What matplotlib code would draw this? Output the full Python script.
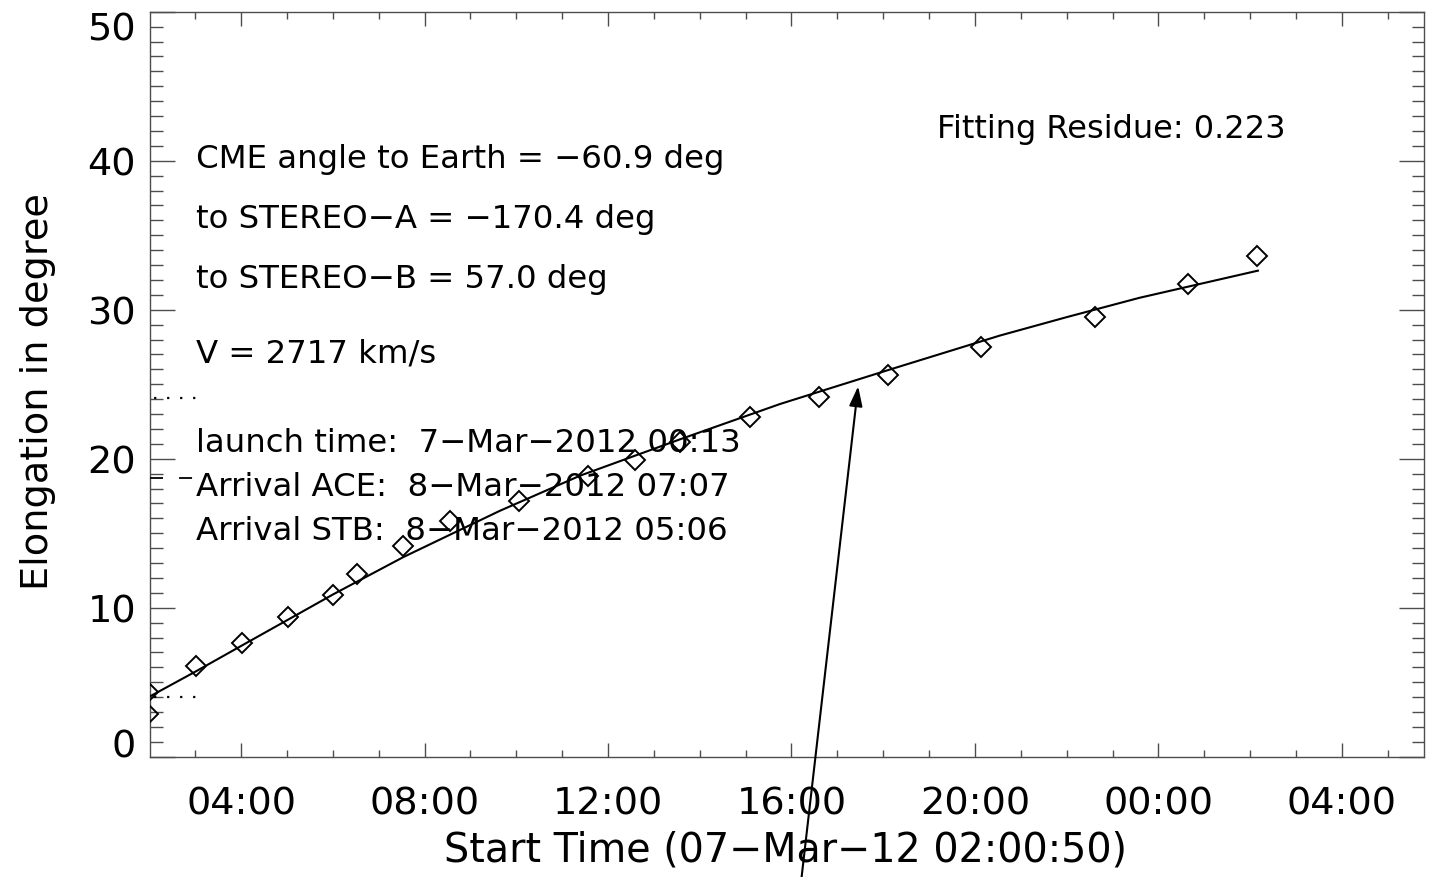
import matplotlib
matplotlib.use("Agg")
import matplotlib.pyplot as plt
from matplotlib.ticker import MultipleLocator, FuncFormatter

plt.rcParams['font.family'] = ['DejaVu Sans']

# Time axis in hours since 07-Mar-2012 00:00 UT
t_start = 2 + 0 / 60 + 50 / 3600          # 02:00:50
t_end = t_start + 100000 / 3600           # 100000 s window

# Measured elongations (deg)
obs_hours = [1.97, 1.97, 3.01, 4.01, 5.02, 6.01, 6.53, 7.54, 8.55, 10.06,
             11.57, 12.59, 13.57, 15.09, 16.60, 18.11, 20.13, 22.61, 24.65, 26.15]
obs_elong = [4.34, 2.87, 6.11, 7.61, 9.36, 10.87, 12.26, 14.12, 15.84, 17.18,
             18.86, 19.93, 21.10, 22.78, 24.12, 25.62, 27.52, 29.51, 31.72, 33.62]

# Fitted elongation profile
fit_hours = [2.014, 3.01, 4.01, 5.02, 6.01, 7.54, 9.64, 11.39, 13.57, 15.75,
             18.11, 20.54, 22.0, 23.59, 26.17]
fit_elong = [4.05, 5.72, 7.45, 9.19, 10.90, 13.40, 16.50, 18.86, 21.30, 23.67,
             25.95, 28.26, 29.50, 30.80, 32.62]

# Reference elongation levels marked at the left edge
dotted_levels = [24.07, 4.03]
dashed_levels = [18.72]
level_span = 1.0  # hours

# Arrow marking the event on the fitted track
arrow_tip = (17.454, 24.86)
arrow_tail = (16.166, -9.55)

y_ticks = [0, 10, 20, 30, 40, 50]

info_lines = [
    "CME angle to Earth = \u221260.9 deg",
    "to STEREO\u2212A = \u2212170.4 deg",
    "to STEREO\u2212B = 57.0 deg",
    "V = 2717 km/s",
    "launch time:  7\u2212Mar\u22122012 00:13",
    "Arrival ACE:  8\u2212Mar\u22122012 07:07",
    "Arrival STB:  8\u2212Mar\u22122012 05:06",
]
info_baselines_px = [168.3, 228.3, 288.3, 362.7, 451.7, 496.0, 540.0]
residue_text = "Fitting Residue: 0.223"

W, H = 1433, 878
fig = plt.figure(figsize=(W / 100, H / 100), dpi=100)
ax_l, ax_r, ax_t, ax_b = 150, 1424, 12.7, 757.7
ax = fig.add_axes([ax_l / W, (H - ax_b) / H, (ax_r - ax_l) / W, (ax_b - ax_t) / H])

def px_to_axes(px, py):
    return (px - ax_l) / (ax_r - ax_l), (ax_b - py) / (ax_b - ax_t)

ax.set_xlim(t_start, t_end)
ax.set_ylim(0, 50)

# Fitted curve and observations
ax.plot(fit_hours, fit_elong, color='black', lw=1.5, zorder=3)
ax.plot(obs_hours, obs_elong, linestyle='none', marker='D', markersize=10.5,
        markerfacecolor='none', markeredgecolor='black', markeredgewidth=1.4,
        zorder=4)

for lv in dotted_levels:
    ax.plot([t_start, t_start + level_span], [lv, lv], color='black', lw=1.6,
            linestyle=(4.0, (1, 4.85)), zorder=3)
for lv in dashed_levels:
    ax.plot([t_start, t_start + level_span], [lv, lv], color='black', lw=1.3,
            linestyle=(0, (7.2, 8.9)), zorder=3)

ax.annotate('', xy=arrow_tip, xytext=arrow_tail, annotation_clip=False,
            arrowprops=dict(arrowstyle='-|>,head_length=0.6,head_width=0.2',
                            mutation_scale=20, lw=1.5, color='black',
                            shrinkA=0, shrinkB=0))

# Annotation block
for line, base in zip(info_lines, info_baselines_px):
    x, y = px_to_axes(196, base)
    ax.text(x, y, line, transform=ax.transAxes, fontsize=23.3, va='baseline',
            ha='left', color='black', zorder=2)
x, y = px_to_axes(937, 137.7)
ax.text(x, y, residue_text, transform=ax.transAxes, fontsize=23,
        va='baseline', ha='left', color='black')

# Axes styling
frame_color = '0.3'
for sp in ax.spines.values():
    sp.set_color(frame_color)
    sp.set_linewidth(1.0)

ax.xaxis.set_major_locator(MultipleLocator(4))
ax.xaxis.set_minor_locator(MultipleLocator(1))
ax.xaxis.set_major_formatter(FuncFormatter(lambda h, pos: f"{int(round(h)) % 24:02d}:00"))
ax.set_yticks(y_ticks)
ax.yaxis.set_minor_locator(MultipleLocator(1))

ax.tick_params(axis='both', which='both', direction='in', color=frame_color,
               width=1.0, labelcolor='black')
ax.tick_params(axis='x', which='major', length=10, pad=21, labelsize=27.5,
               top=True, bottom=True)
ax.tick_params(axis='x', which='minor', length=5, top=True, bottom=True)
ax.tick_params(axis='y', which='major', length=18, pad=10, labelsize=27.5,
               left=True, right=True)
ax.tick_params(axis='y', which='minor', length=9, left=True, right=True)

ax.set_xlabel("Start Time (07\u2212Mar\u221212 02:00:50)", fontsize=28.5, va='center')
ax.xaxis.set_label_coords(*px_to_axes(786, 851))
ax.set_ylabel("Elongation in degree", fontsize=27.5, va='center')
ax.yaxis.set_label_coords(*px_to_axes(38, 392))

# Keep the end labels of the elongation axis inside the frame
major_y = ax.yaxis.get_major_ticks()
major_y[0].label1.set_verticalalignment('baseline')
major_y[-1].label1.set_verticalalignment('top')

fig.savefig("out.png", dpi=100, facecolor='white')
